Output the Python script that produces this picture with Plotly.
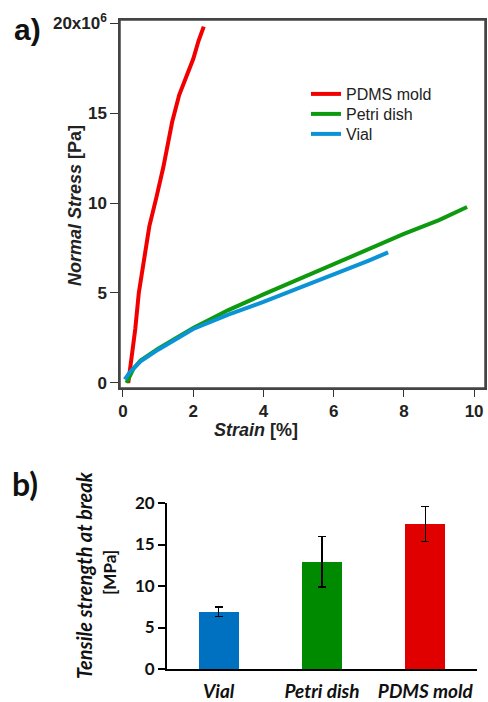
import plotly.graph_objects as go

# ---------------- data ----------------
pdms_strain = [0.15, 0.2, 0.3, 0.35, 0.45, 0.6, 0.75, 0.95, 1.15, 1.4, 1.6, 1.8, 2.0, 2.15, 2.3]
pdms_stress = [0.0, 0.8, 2.0, 3.0, 5.0, 7.0, 8.7, 10.3, 12.0, 14.5, 16.0, 17.0, 18.0, 19.0, 19.8]

petri_strain = [0.1, 0.15, 0.3, 0.5, 1.0, 2.0, 3.0, 4.0, 5.0, 6.0, 7.0, 8.0, 9.0, 9.8]
petri_stress = [0.0, 0.2, 0.8, 1.25, 1.9, 3.05, 4.05, 4.92, 5.76, 6.6, 7.44, 8.28, 9.05, 9.78]

vial_strain = [0.05, 0.2, 0.5, 1.0, 2.0, 3.0, 4.0, 5.0, 6.0, 7.0, 7.55]
vial_stress = [0.2, 0.6, 1.2, 1.85, 3.0, 3.8, 4.5, 5.25, 6.0, 6.8, 7.26]

y_tickvals = [0, 5, 10, 15, 20]
y_ticktext = ["0", "5", "10", "15", "20x10<sup>6</sup>"]
x_tickvals = [0, 2, 4, 6, 8, 10]

bar_cats = ["Vial", "Petri dish", "PDMS mold"]
bar_vals = [6.9, 12.9, 17.45]
bar_err = [0.55, 3.05, 2.1]
bar_colors = ["#0070C0", "#008A00", "#E00000"]

W, H = 488, 702
def px_x(x):
    return x / W
def px_y(y):
    return 1 - y / H

fig = go.Figure()

line_colors = {"PDMS mold": "#F20000", "Petri dish": "#0E9A0E", "Vial": "#0A94D6"}
fig.add_trace(go.Scatter(x=pdms_strain, y=pdms_stress, mode="lines", name="PDMS mold",
                         line=dict(color=line_colors["PDMS mold"], width=4),
                         xaxis="x", yaxis="y", legend="legend"))
fig.add_trace(go.Scatter(x=petri_strain, y=petri_stress, mode="lines", name="Petri dish",
                         line=dict(color=line_colors["Petri dish"], width=4),
                         xaxis="x", yaxis="y", legend="legend2"))
fig.add_trace(go.Scatter(x=vial_strain, y=vial_stress, mode="lines", name="Vial",
                         line=dict(color=line_colors["Vial"], width=4),
                         xaxis="x", yaxis="y", legend="legend3"))

fig.add_trace(go.Bar(x=bar_cats, y=bar_vals, marker=dict(color=bar_colors, line=dict(width=0)),
                     width=0.39, showlegend=False, xaxis="x2", yaxis="y2",
                     error_y=dict(type="data", array=bar_err, visible=True, color="black",
                                  thickness=1.5, width=4)))

axis_font = dict(family="Liberation Sans, Arial", size=17, color="#222", weight="bold")
calibri_font = dict(family="Lato, Carlito, Calibri", size=17, color="#111", weight="bold")
leg_font = dict(family="Liberation Sans, Arial", size=16, color="#222")

def leg(ypx):
    return dict(x=px_x(306), y=px_y(ypx), xanchor="left", yanchor="middle",
                font=leg_font, bgcolor="rgba(0,0,0,0)", itemwidth=30, borderwidth=0)

fig.update_layout(
    template="none",
    width=W, height=H, autosize=False,
    margin=dict(l=0, r=0, t=0, b=0, pad=0),
    paper_bgcolor="white", plot_bgcolor="white",
    showlegend=True,
    legend=leg(94), legend2=leg(114), legend3=leg(134),
    xaxis=dict(domain=[px_x(120), px_x(485)], range=[-0.085, 10.31], automargin=False,
               tickvals=x_tickvals, ticks="outside", ticklen=7, tickwidth=1.2,
               tickcolor="#333", showline=True, linecolor="#444", linewidth=1.5,
               mirror=True, showgrid=False, zeroline=False, tickfont=axis_font,
               anchor="y"),
    yaxis=dict(domain=[px_y(388), px_y(20)], range=[-0.28, 20.17], automargin=False,
               tickvals=y_tickvals, ticktext=y_ticktext, ticks="outside", ticklen=8,
               tickwidth=1.2, tickcolor="#333", showline=True, linecolor="#444",
               linewidth=1.5, mirror=True, showgrid=False, zeroline=False,
               tickfont=axis_font, anchor="x"),
    xaxis2=dict(domain=[px_x(167), px_x(477)], range=[-0.5, 2.5], type="category",
                automargin=False,
                showline=True, linecolor="black", linewidth=1.8,
                ticks="outside", ticklen=4, tickcolor="rgba(0,0,0,0)",
                showgrid=False, zeroline=False, anchor="y2",
                tickfont=dict(family="Lato, Carlito, Calibri", size=19, color="#111",
                              weight="bold", style="italic")),
    yaxis2=dict(domain=[px_y(669), px_y(503)], range=[0, 20], tickvals=[0, 5, 10, 15, 20],
                automargin=False,
                ticks="outside", ticklen=7, tickwidth=1.5, tickcolor="black",
                showline=True, linecolor="black", linewidth=1.8, showgrid=False,
                zeroline=False, tickfont=calibri_font, anchor="x2"),
    bargap=0,
)

# frame around panel a)
fig.add_shape(type="rect", xref="x domain", yref="y domain", x0=0, x1=1, y0=0, y1=1,
              line=dict(color="#444", width=1.5), fillcolor="rgba(0,0,0,0)", layer="above")

annotations = [
    dict(text="a)", x=px_x(12), y=px_y(30), xanchor="left", yanchor="middle",
         font=dict(family="Liberation Sans, Arial", size=30, color="#111", weight="bold")),
    dict(text="b)", x=px_x(10), y=px_y(483), xanchor="left", yanchor="middle",
         font=dict(family="Lato, Carlito, Calibri", size=32, color="#111", weight="bold")),
    dict(text="<i>Normal Stress</i> [Pa]", x=px_x(75), y=px_y(206), textangle=-90,
         xanchor="center", yanchor="middle",
         font=dict(family="Liberation Sans, Arial", size=18, color="#222", weight="bold")),
    dict(text="<i>Strain</i> [%]", x=px_x(256), y=px_y(430), xanchor="center", yanchor="middle",
         font=dict(family="Liberation Sans, Arial", size=18, color="#222", weight="bold")),
    dict(text="<i>Tensile strength at break</i>", x=px_x(84), y=px_y(575), textangle=-90,
         xanchor="center", yanchor="middle",
         font=dict(family="Lato, Carlito, Calibri", size=20, color="#111", weight="bold")),
    dict(text="[MPa]", x=px_x(109), y=px_y(573), textangle=-90,
         xanchor="center", yanchor="middle",
         font=dict(family="Lato, Carlito, Calibri", size=17, color="#111", weight="bold")),
]
for a in annotations:
    a.update(xref="paper", yref="paper", showarrow=False)
fig.update_layout(annotations=annotations)

fig.write_html("out.html", config={"displayModeBar": False},
               post_script="document.body.style.margin='0';document.body.style.overflow='hidden';")
